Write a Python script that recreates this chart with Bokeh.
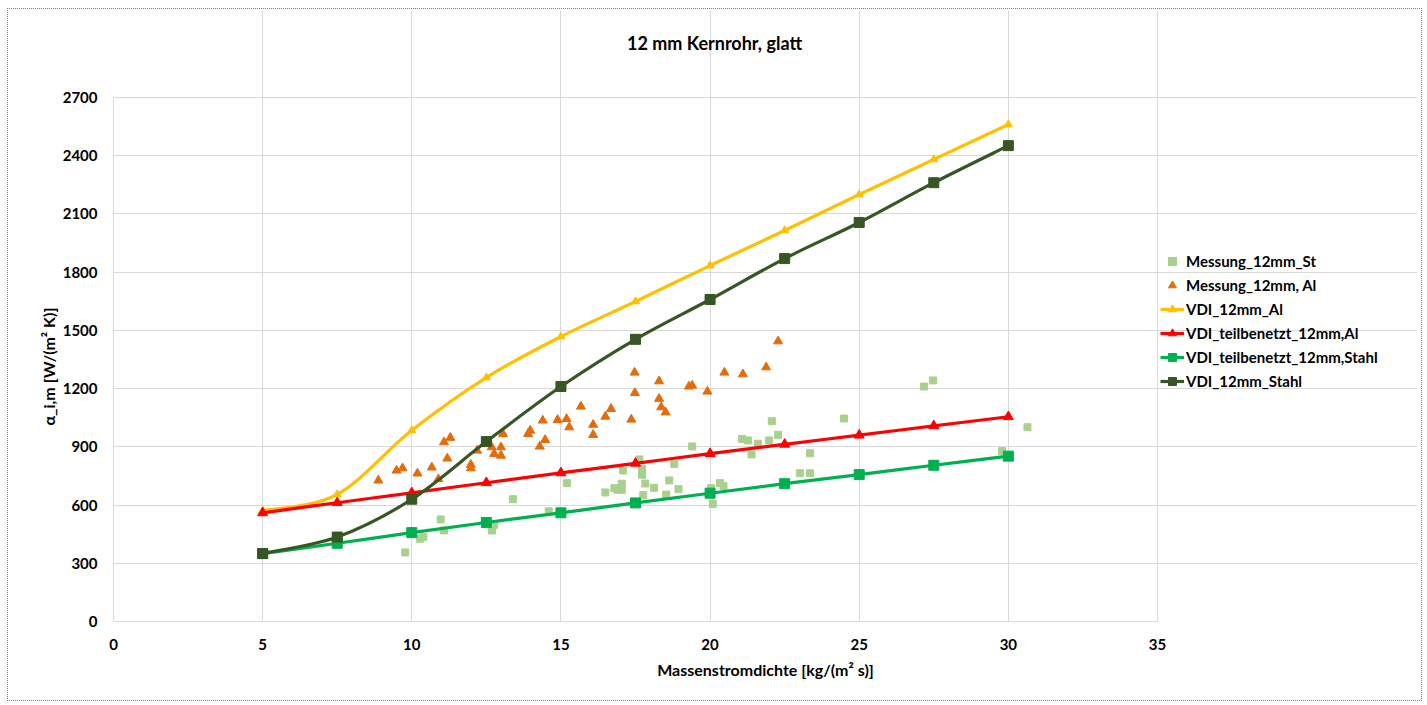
import numpy as np
from bokeh.plotting import figure
from bokeh.models import Legend, LegendItem, Range1d, FixedTicker, InlineStyleSheet, Label
from bokeh.embed import file_html
from bokeh.resources import INLINE

# ---------------- data ----------------
x_vdi = [5, 7.5, 10, 12.5, 15, 17.5, 20, 22.5, 25, 27.5, 30]
y_vdi_al = [570, 655, 985, 1257, 1468, 1649, 1834, 2015, 2200, 2381, 2561]
y_vdi_tb_al = [560, 612, 663, 715, 766, 815, 865, 913, 960, 1008, 1055]
y_vdi_tb_st = [350, 403, 458, 510, 560, 611, 661, 710, 757, 805, 852]
y_vdi_st = [350, 435, 630, 927, 1211, 1454, 1659, 1870, 2056, 2261, 2452]

x_mess_al = [8.88, 9.49, 9.69, 10.19, 10.67, 10.89, 11.08, 11.29, 11.19, 11.98, 11.98,
             12.19, 12.68, 12.76, 12.99, 12.99, 13.06, 13.90, 13.97, 14.39, 14.47,
             14.29, 14.89, 15.19, 15.28, 15.67, 16.08, 16.08, 16.49, 16.68, 17.36,
             17.47, 17.48, 18.29, 18.29, 18.36, 18.51, 19.29, 19.40, 19.91, 20.48,
             21.10, 21.88, 22.28]
y_mess_al = [727, 778, 790, 763, 794, 734, 924, 947, 840, 808, 790,
             881, 898, 864, 898, 855, 967, 967, 984, 1036, 936,
             902, 1039, 1044, 1001, 1108, 1014, 962, 1056, 1096, 1041,
             1283, 1178, 1238, 1148, 1104, 1078, 1211, 1216, 1185, 1283,
             1274, 1310, 1444]

x_mess_st = [9.78, 10.97, 10.28, 10.39, 11.08, 13.39, 12.69, 12.76, 14.59, 15.20,
             16.49, 16.79, 16.90, 17.04, 17.04, 17.08, 17.63, 17.72, 17.72, 17.83,
             17.76, 18.12, 18.53, 18.63, 18.80, 18.94, 19.40, 20.03, 20.09, 20.33,
             20.45, 21.07, 21.27, 21.39, 21.60, 21.98, 22.07, 22.28, 23.01, 23.35,
             23.35, 24.49, 27.17, 27.47, 29.79, 30.64]
y_mess_st = [356, 526, 426, 435, 469, 630, 469, 498, 568, 713,
             665, 687, 679, 710, 679, 778, 835, 785, 756, 711,
             651, 689, 654, 727, 812, 682, 902, 687, 606, 713,
             699, 941, 933, 861, 916, 933, 1032, 962, 764, 764,
             867, 1046, 1211, 1242, 878, 1001]

x_ticks = [0, 5, 10, 15, 20, 25, 30, 35]
y_ticks = [0, 300, 600, 900, 1200, 1500, 1800, 2100, 2400, 2700]

FONT = "Lato"

# The frame is extended to the right and upwards so that the legend and the
# title can sit inside it; the chart itself (grid, axes) is bounded to
# x in [0, 35] and y in [0, 2700].
LEFT, RIGHT_BORDER, TOP_BORDER, BOTTOM = 113, 10, 10, 84
PLOT_W, PLOT_H = 1044.0, 524.0  # pixel size of the [0,35] x [0,2700] area
frame_w = 1427 - LEFT - RIGHT_BORDER
frame_h = 705 - TOP_BORDER - BOTTOM
x_end = 35 * frame_w / PLOT_W
y_end = 2700 * frame_h / PLOT_H

border_css = InlineStyleSheet(css="""
:host::after {
  content: "";
  position: absolute;
  left: 7px; top: 8px; right: 5px; bottom: 4px;
  border: 1px dotted #7f7f7f;
  pointer-events: none;
  z-index: 100;
}
""")

p = figure(width=1427, height=705, output_backend="svg", toolbar_location=None,
           x_range=Range1d(0, x_end), y_range=Range1d(0, y_end),
           min_border_left=LEFT, min_border_right=RIGHT_BORDER, min_border_top=TOP_BORDER,
           min_border_bottom=BOTTOM, stylesheets=[border_css])

p.outline_line_color = None
p.background_fill_color = "white"
p.border_fill_color = "white"

for ax in (p.xaxis[0], p.yaxis[0]):
    ax.axis_line_color = "#d9d9d9"
    ax.major_tick_line_color = None
    ax.minor_tick_line_color = None
    ax.major_label_text_font = FONT
    ax.major_label_text_font_size = "15px"
    ax.major_label_text_font_style = "bold"
    ax.major_label_text_color = "#000000"
    ax.axis_label_text_font = FONT
    ax.axis_label_text_font_size = "16px"
    ax.axis_label_text_font_style = "bold"
    ax.axis_label_text_color = "#000000"

p.xaxis.bounds = (0, 35)
p.yaxis.bounds = (0, 2700)
p.xaxis.ticker = FixedTicker(ticks=x_ticks)
p.yaxis.ticker = FixedTicker(ticks=y_ticks)
p.xaxis.major_label_standoff = 11
p.yaxis.major_label_standoff = 10
p.xaxis.axis_label = "Massenstromdichte [kg/(m² s)]"
# trailing no-break spaces keep the (frame-centred) label centred on the 0..2700 span
p.yaxis.axis_label = "α_i,m [W/(m² K)]" + "\u00a0" * 26
p.xaxis.axis_label_standoff = 7
p.yaxis.axis_label_standoff = 2

p.xgrid.grid_line_color = "#d9d9d9"
p.ygrid.grid_line_color = "#d9d9d9"
p.xgrid.ticker = FixedTicker(ticks=x_ticks)
p.ygrid.ticker = FixedTicker(ticks=y_ticks)
p.xgrid.bounds = (0, 2700)
p.ygrid.bounds = (0, 35)

# chart title (inside the extended frame, in screen units from frame bottom-left)
p.add_layout(Label(x=714 - LEFT, y=(705 - BOTTOM) - 42, x_units="screen", y_units="screen",
                   text="12 mm Kernrohr, glatt", text_font=FONT, text_font_size="18px",
                   text_font_style="bold", text_color="#000000",
                   text_align="center", text_baseline="middle"))


def smooth_bezier(xs, ys, color, width):
    xs = np.asarray(xs, float)
    ys = np.asarray(ys, float)
    n = len(xs)
    x0, y0, x1, y1, cx0, cy0, cx1, cy1 = [], [], [], [], [], [], [], []
    for i in range(n - 1):
        im = max(i - 1, 0)
        ip = min(i + 2, n - 1)
        x0.append(xs[i]); y0.append(ys[i])
        x1.append(xs[i + 1]); y1.append(ys[i + 1])
        cx0.append(xs[i] + (xs[i + 1] - xs[im]) / 6)
        cy0.append(ys[i] + (ys[i + 1] - ys[im]) / 6)
        cx1.append(xs[i + 1] - (xs[ip] - xs[i]) / 6)
        cy1.append(ys[i + 1] - (ys[ip] - ys[i]) / 6)
    return p.bezier(x0=x0, y0=y0, x1=x1, y1=y1, cx0=cx0, cy0=cy0, cx1=cx1, cy1=cy1,
                    line_color=color, line_width=width)


# measurement scatter
r_st = p.scatter(x_mess_st, y_mess_st, marker="square", size=7,
                 fill_color="#a9d18e", line_color="#a9d18e")
r_al = p.scatter(x_mess_al, y_mess_al, marker="triangle", size=9,
                 fill_color="#e46c0a", line_color="#e46c0a")

# VDI lines
YEL, RED, GRN, DGR = "#ffc000", "#ff0000", "#00b050", "#375623"
l_al = smooth_bezier(x_vdi, y_vdi_al, YEL, 3.2)
m_al = p.scatter(x_vdi, y_vdi_al, marker="triangle", size=8, fill_color=YEL, line_color=YEL)
l_tbal = smooth_bezier(x_vdi, y_vdi_tb_al, RED, 3.2)
m_tbal = p.scatter(x_vdi, y_vdi_tb_al, marker="triangle", size=10, fill_color=RED, line_color=RED)
l_tbst = smooth_bezier(x_vdi, y_vdi_tb_st, GRN, 3.2)
m_tbst = p.scatter(x_vdi, y_vdi_tb_st, marker="square", size=10, fill_color=GRN, line_color=GRN)
l_st = smooth_bezier(x_vdi, y_vdi_st, DGR, 3.2)
m_st = p.scatter(x_vdi, y_vdi_st, marker="square", size=10, fill_color=DGR, line_color=DGR)

legend = Legend(items=[
    LegendItem(label="Messung_12mm_St", renderers=[r_st]),
    LegendItem(label="Messung_12mm, Al", renderers=[r_al]),
    LegendItem(label="VDI_12mm_Al", renderers=[l_al, m_al]),
    LegendItem(label="VDI_teilbenetzt_12mm,Al", renderers=[l_tbal, m_tbal]),
    LegendItem(label="VDI_teilbenetzt_12mm,Stahl", renderers=[l_tbst, m_tbst]),
    LegendItem(label="VDI_12mm_Stahl", renderers=[l_st, m_st]),
])
legend.label_text_font = FONT
legend.label_text_font_size = "15px"
legend.label_text_font_style = "bold"
legend.label_text_color = "#000000"
legend.border_line_color = None
legend.background_fill_alpha = 0
legend.spacing = 4
legend.glyph_width = 24
legend.glyph_height = 20
legend.label_standoff = 2
legend.padding = 0
legend.margin = 0
legend.location = (1160 - LEFT, 230)
p.add_layout(legend, "center")

open("out.html", "w").write(file_html(p, INLINE))
